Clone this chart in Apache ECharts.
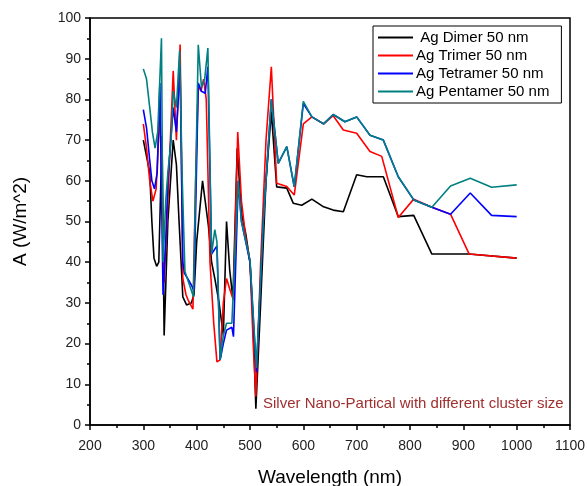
<!DOCTYPE html>
<html>
<head>
<meta charset="utf-8">
<script src="https://cdn.jsdelivr.net/npm/echarts@6/dist/echarts.min.js"></script>
<style>
  html, body { margin: 0; padding: 0; background: #fff; }
  #main { width: 587px; height: 486px; }
</style>
</head>
<body>
<div id="main"></div>
<script>
// 数据
var dimerX = [300, 306, 312, 316, 320, 325, 329, 335, 339, 346, 356, 362, 367, 374, 381, 390, 395, 400, 411, 416, 422, 428, 434, 442, 450, 456, 462, 468, 476, 484, 492, 500, 506, 511, 520, 530, 540, 550, 569, 581, 597, 616, 638, 656, 675, 700, 719, 750, 778, 807, 841, 910, 1000]
var dimerY = [70, 66, 62, 50, 41, 39, 40, 71, 22, 50, 70, 64, 50, 31.5, 29.5, 30, 32, 45, 60, 55, 49, 40, 36, 30, 22, 50, 38, 31, 68, 52, 47, 40, 25, 4, 30, 60, 77, 58.5, 58.2, 54.5, 54, 55.5, 53.6, 52.8, 52.4, 61.5, 61, 61, 51.2, 51.5, 42, 42, 41]

var trimerX = [300, 306, 312, 318, 324, 331, 336, 339, 346, 356, 362, 369, 374, 380, 384, 393, 398, 403, 408, 413, 418, 425, 432, 438, 444, 450, 456, 463, 469, 477, 484, 492, 500, 506, 511, 520, 530, 540, 550, 569, 583, 600, 616, 638, 656, 675, 700, 725, 747, 778, 807, 841, 876, 911, 1000]
var trimerY = [74, 68, 60, 55, 58, 77, 55, 35, 55, 87, 70, 93.5, 36, 32, 30.7, 28.5, 60, 83.5, 82, 85, 80, 40, 25, 15.5, 16, 30, 36, 33, 30.7, 72, 55, 46, 40, 20, 7, 40, 70, 88, 59.4, 58.6, 56.5, 74, 75.7, 74, 76, 72.5, 71.7, 67.2, 66, 51, 55.5, 53.5, 51.8, 42, 41]

var tetramerX = [300, 306, 312, 316, 321, 326, 331, 337, 342, 346, 356, 362, 369, 374, 377, 383, 390, 395, 403, 409, 416, 421, 428, 438, 444, 450, 456, 466, 469, 478, 484, 500, 512, 525, 540, 553, 569, 583, 600, 616, 638, 656, 678, 700, 725, 750, 778, 807, 841, 876, 913, 953, 1000]
var tetramerY = [77.5, 73, 65, 60, 58, 62, 84, 32, 45, 60, 78, 72, 88, 40, 37.3, 36, 34.4, 33, 84, 82, 81.5, 88, 42, 44, 16, 20, 23.3, 24, 21.7, 60, 50, 40, 13, 50, 80, 64.3, 68.4, 58.5, 79, 75.7, 74, 76.3, 74.5, 75.7, 71.2, 70, 61, 55.3, 53.5, 51.8, 57, 51.5, 51.2]

var pentamerX = [300, 306, 312, 317, 322, 327, 334, 337, 342, 346, 352, 356, 362, 368, 373, 378, 385, 394, 403, 409, 415, 421, 428, 434, 438, 444, 450, 456, 466, 478, 484, 500, 512, 525, 540, 553, 569, 583, 600, 616, 638, 656, 678, 700, 725, 750, 778, 807, 841, 876, 913, 953, 1000]
var pentamerY = [87.5, 85, 78, 72, 68, 72, 95, 40, 55, 62, 70, 82, 78, 92, 60, 37.7, 35, 31.5, 93.4, 83, 85, 92.6, 42, 48, 45, 16, 22, 25, 25, 60, 50, 40.5, 14, 50, 80, 64.3, 68.4, 58.5, 79.5, 75.7, 74, 76.3, 74.5, 75.7, 71.2, 70, 61, 55.3, 53.5, 58.7, 60.6, 58.4, 59]

var seriesNames = ['Ag Dimer 50 nm', 'Ag Trimer 50 nm', 'Ag Tetramer 50 nm', 'Ag Pentamer 50 nm']
var seriesColors = ['#000000', '#ff0000', '#0000ff', '#008080']

function pairs(xs, ys) {
  var out = []
  for (var i = 0; i < xs.length; i++) {
    out.push([xs[i], ys[i]])
  }
  return out
}

var allData = [
  pairs(dimerX, dimerY),
  pairs(trimerX, trimerY),
  pairs(tetramerX, tetramerY),
  pairs(pentamerX, pentamerY)
]

var myChart = echarts.init(document.getElementById('main'))

var font = 'Liberation Sans, Arial, sans-serif'

var series = []
for (var i = 0; i < seriesNames.length; i++) {
  series.push({
    name: seriesNames[i],
    type: 'line',
    data: allData[i],
    showSymbol: false,
    symbol: 'none',
    lineStyle: { color: seriesColors[i], width: 1.6 },
    itemStyle: { color: seriesColors[i] },
    animation: false,
    z: 2 + i
  })
}

var option = {
  backgroundColor: '#fff',
  grid: {
    left: 90,
    right: 17,
    top: 18,
    bottom: 61,
    outerBoundsMode: 'none',
    show: true,
    borderColor: '#000',
    borderWidth: 1.5
  },
  legend: {
    orient: 'vertical',
    left: 373,
    top: 26,
    padding: [4, 12, 4, 5],
    itemGap: 3,
    itemWidth: 35,
    itemHeight: 2,
    icon: 'rect',
    borderColor: '#000',
    borderWidth: 1,
    backgroundColor: '#fff',
    formatter: function (name) {
      // 第一项前面多一个空格
      return name === seriesNames[0] ? ' ' + name : name
    },
    textStyle: { fontFamily: font, fontSize: 15, color: '#000', padding: [0, 0, 0, -2] },
    data: seriesNames
  },
  xAxis: {
    type: 'value',
    min: 200,
    max: 1100,
    interval: 100,
    name: 'Wavelength (nm)',
    nameLocation: 'middle',
    nameGap: 43,
    nameTextStyle: { fontFamily: font, fontSize: 19, color: '#000' },
    axisLine: { lineStyle: { color: '#000', width: 1.5 } },
    axisTick: { inside: false, length: 5, lineStyle: { color: '#000', width: 1.5 } },
    minorTick: { show: true, splitNumber: 2, length: 3, lineStyle: { color: '#000', width: 1.5 } },
    axisLabel: {
      fontFamily: font, fontSize: 14, color: '#222', margin: 14,
      formatter: function (v) { return String(v) }
    },
    splitLine: { show: false }
  },
  yAxis: {
    type: 'value',
    min: 0,
    max: 100,
    interval: 10,
    name: 'A (W/m^2)',
    nameLocation: 'middle',
    nameGap: 60,
    nameTextStyle: { fontFamily: font, fontSize: 19, color: '#000' },
    axisLine: { show: true, lineStyle: { color: '#000', width: 1.5 } },
    axisTick: { show: true, inside: false, length: 5, lineStyle: { color: '#000', width: 1.5 } },
    minorTick: { show: true, splitNumber: 2, length: 3, lineStyle: { color: '#000', width: 1.5 } },
    axisLabel: { fontFamily: font, fontSize: 14, color: '#222', margin: 9 },
    splitLine: { show: false }
  },
  graphic: [{
    type: 'text',
    left: 263,
    top: 396,
    style: {
      text: 'Silver Nano-Partical with different cluster size',
      fill: '#a03030',
      font: '15px Liberation Sans, Arial, sans-serif'
    },
    z: 100
  }],
  series: series
}

myChart.setOption(option)
</script>
</body>
</html>
